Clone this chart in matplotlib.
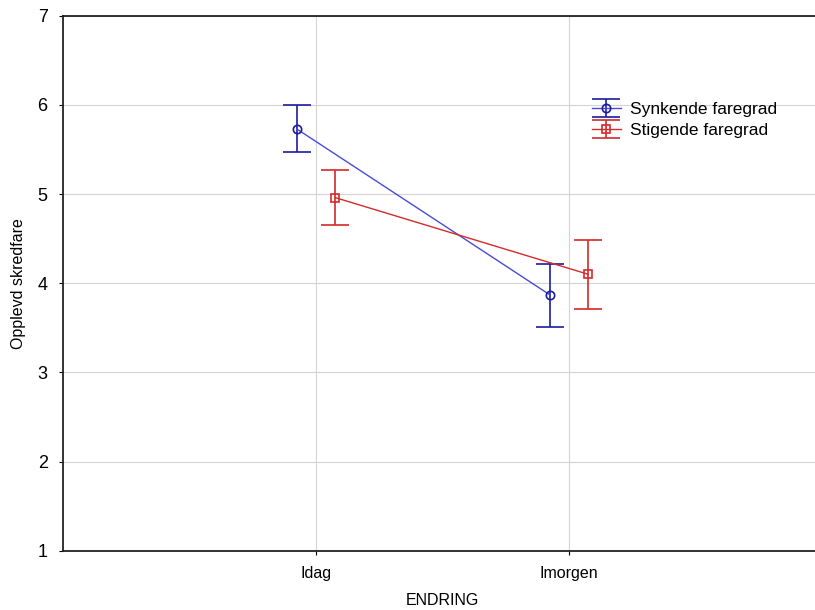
import numpy as np
import matplotlib.pyplot as plt

plt.rcParams['font.family'] = ['Liberation Sans', 'DejaVu Sans']

kategorier = ['Idag', 'Imorgen']
synkende = [5.73, 3.87]
synkende_ovre = [6.00, 4.22]
synkende_nedre = [5.47, 3.51]
stigende = [4.96, 4.10]
stigende_ovre = [5.27, 4.48]
stigende_nedre = [4.65, 3.71]

fig = plt.figure(figsize=(8.15, 6.1), dpi=100)
# høyre kant av aksen er kuttet i originalen
ax = fig.add_axes([63 / 815, 1 - 550.7 / 610, (822 - 63) / 815, (550.7 - 15.7) / 610])

x = np.arange(1, len(kategorier) + 1)
forskyv = 0.076

blå = '#1c1ca0'
rød = '#d42a2a'

s1 = np.array(synkende)
s2 = np.array(stigende)
feil1 = [s1 - np.array(synkende_nedre), np.array(synkende_ovre) - s1]
feil2 = [s2 - np.array(stigende_nedre), np.array(stigende_ovre) - s2]

ax.errorbar(x - forskyv, s1, yerr=feil1, color=blå, ecolor=blå, lw=1, elinewidth=1.2,
            capsize=10, capthick=1.2, marker='o', ms=6, mfc='none', mec=blå,
            mew=1.2, label='Synkende faregrad')
ax.errorbar(x + forskyv, s2, yerr=feil2, color=rød, ecolor=rød, lw=1, elinewidth=1.2,
            capsize=10, capthick=1.2, marker='s', ms=5.5, mfc='none', mec=rød,
            mew=1.2, label='Stigende faregrad')
ax.get_lines()[0].set_color('#4a4ad8')

ax.set_xlim(0, 3)
ax.set_ylim(1, 7)
ax.set_xticks(x)
ax.set_xticklabels(kategorier, fontsize=11.5)
ax.set_yticks(range(1, 8))
ax.set_yticklabels([str(v) for v in range(1, 8)], fontsize=13)
ax.tick_params(axis='y', length=3, pad=8)
ax.tick_params(axis='x', length=3, pad=8)
ax.grid(True, color='#d4d4d4', lw=0.8)
ax.set_axisbelow(True)
for s in ax.spines.values():
    s.set_linewidth(1.3)
    s.set_color('#222222')

ax.set_xlabel('ENDRING', fontsize=11.5, labelpad=9)
ax.set_ylabel('Opplevd skredfare', fontsize=11.5, labelpad=8)

ax.legend(loc='upper left', bbox_to_anchor=(0.685, 0.855), frameon=False,
          prop={'size': 12.5}, handlelength=1.7, handletextpad=0.5,
          labelspacing=0.33, borderpad=0)

fig.savefig('out.png', dpi=100)
